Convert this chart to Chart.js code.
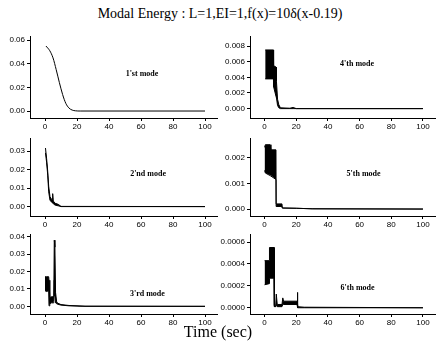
<!DOCTYPE html>
<html>
<head>
<meta charset="utf-8">
<script src="https://cdn.jsdelivr.net/npm/chart.js@4.4.0/dist/chart.umd.min.js"></script>
<style>
  body { margin: 0; background: #fff; }
  #wrap { position: relative; width: 436px; height: 347px; overflow: hidden; }
  canvas { position: absolute; }
  .title { position: absolute; left: 0; width: 440px; top: 6px; text-align: center;
           font: 14px "Liberation Serif", serif; color: #000; }
  .xlab { position: absolute; left: 0; width: 436px; top: 323px; text-align: center;
          font: 16px "Liberation Serif", serif; color: #000; }
</style>
</head>
<body>
<div id="wrap">
  <div class="title">Modal Energy : L=1,EI=1,f(x)=10δ(x-0.19)</div>
  <canvas id="c1" width="218" height="102" style="left:0;top:30px"></canvas>
  <canvas id="c4" width="218" height="102" style="left:218px;top:30px"></canvas>
  <canvas id="c2" width="218" height="98" style="left:0;top:132px"></canvas>
  <canvas id="c5" width="218" height="98" style="left:218px;top:132px"></canvas>
  <canvas id="c3" width="218" height="100" style="left:0;top:228px"></canvas>
  <canvas id="c6" width="218" height="100" style="left:218px;top:228px"></canvas>
  <div class="xlab">Time (sec)</div>
</div>
<script>
// time ticks shared by every panel
const timeTicks = [0, 20, 40, 60, 80, 100];

// 1'st mode: smooth decay
const mode1Time   = [0.6, 3, 5, 7, 9, 11, 13, 15, 17, 19, 22, 100];
const mode1Energy = [0.055, 0.051, 0.045, 0.035, 0.024, 0.014, 0.0065, 0.0025, 0.0008, 0.0002, 0, 0];
const mode1Ticks  = [0, 0.02, 0.04, 0.06];

// 2'nd mode: upper / lower envelope of the oscillation
const mode2Time  = [0.3, 1, 1.7, 2.3, 3.1, 4, 4.6, 4.8, 5.2, 6.3, 8.3, 10, 100];
const mode2Upper = [0.0317, 0.026, 0.019, 0.011, 0.0055, 0.004, 0.004, 0.007, 0.003, 0.0018, 0.0012, 0.0001, 0];
const mode2Lower = [0.029, 0.024, 0.017, 0.008, 0.0035, 0.0025, 0.002, 0.0025, 0.0015, 0.0008, 0.0004, 0, 0];
const mode2Ticks = [0, 0.01, 0.02, 0.03];

// 3'rd mode
const mode3Time  = [0, 1, 2.3, 2.5, 3, 4, 5, 5.5, 5.8, 6.2, 6.6, 7.3, 8, 10, 15, 25, 100];
const mode3Upper = [0.017, 0.017, 0.017, 0.015, 0.005, 0.0055, 0.0055, 0.006, 0.038, 0.034, 0.008, 0.0025, 0.0018, 0.001, 0.0005, 0.0001, 0];
const mode3Lower = [0.009, 0.0085, 0.009, 0.0003, 0.0015, 0.002, 0.002, 0.003, 0.015, 0.006, 0.002, 0.0015, 0.0012, 0.0007, 0.0003, 0, 0];
const mode3Ticks = [0, 0.01, 0.02, 0.03, 0.04];

// 4'th mode
const mode4Time  = [0.4, 5.6, 5.7, 7.3, 7.5, 8.2, 9, 10, 16, 18, 20, 100];
const mode4Upper = [0.0075, 0.0075, 0.0055, 0.0053, 0.0035, 0.0012, 0.0005, 0.0001, 0.00005, 0.00015, 0, 0];
const mode4Lower = [0.0038, 0.0038, 0.0028, 0.0015, 0.0014, 0.0004, 0.0001, 0, 0, 0, 0, 0];
const mode4Ticks = [0, 0.002, 0.004, 0.006, 0.008];

// 5'th mode
const mode5Time  = [0, 0.5, 3.5, 4, 7.2, 7.3, 11, 11.2, 20, 30, 100];
const mode5Upper = [0.0024, 0.0025, 0.0025, 0.0023, 0.0023, 0.0002, 0.0002, 0.00004, 0.00003, 0.00001, 0];
const mode5Lower = [0.0015, 0.0014, 0.0013, 0.0013, 0.00115, 0.0001, 0.0001, 0.00004, 0.00003, 0.00001, 0];
const mode5Ticks = [0, 0.001, 0.002];

// 6'th mode
const mode6Time  = [0, 3, 3.1, 6, 6.2, 7, 7.4, 8, 11, 11.5, 12, 20.5, 20.7, 21, 25, 100];
const mode6Upper = [0.00043, 0.00043, 0.00055, 0.00055, 0.00002, 0.00001, 0.000125, 0.00003, 0.00003, 0.00009, 0.00006, 0.00006, 0.00014, 0.00001, 0.000005, 0];
const mode6Lower = [0.00021, 0.00022, 0.00027, 0.00027, 0.00001, 0.00001, 0.00003, 0.00001, 0.00001, 0.00003, 0.00003, 0.00003, 0.00001, 0, 0, 0];
const mode6Ticks = [0, 0.0002, 0.0004, 0.0006];

const modeNames = ["1'st mode", "2'nd mode", "3'rd mode", "4'th mode", "5'th mode", "6'th mode"];

const pts = (t, v) => t.map((x, i) => ({ x: x, y: v[i] }));

// draws the mode name inside the plot, at a data position
const modeLabel = {
  id: 'modeLabel',
  afterDraw(chart, args, opts) {
    const ctx = chart.ctx;
    ctx.save();
    ctx.font = 'bold 8px "Liberation Serif", serif';
    ctx.fillStyle = '#000';
    ctx.textAlign = 'center';
    ctx.textBaseline = 'middle';
    ctx.fillText(opts.text, chart.scales.x.getPixelForValue(opts.at[0]), chart.scales.y.getPixelForValue(opts.at[1]));
    ctx.restore();
  }
};

function panel(id, p) {
  const datasets = [];
  if (p.lower) {
    datasets.push({ data: pts(p.time, p.upper), fill: '+1', backgroundColor: '#000' });
    datasets.push({ data: pts(p.time, p.lower), fill: false });
  } else {
    datasets.push({ data: pts(p.time, p.upper), fill: false, cubicInterpolationMode: 'monotone' });
  }
  datasets.forEach(d => { d.borderColor = '#000'; d.borderWidth = 1; d.pointRadius = 0; });

  const right = p.left ? 30 : 32;
  new Chart(document.getElementById(id), {
    type: 'line',
    data: { datasets: datasets },
    plugins: [modeLabel],
    options: {
      responsive: false,
      animation: false,
      layout: { padding: { top: p.padTop, right: 1, left: 0, bottom: 0 } },
      plugins: {
        legend: { display: false },
        tooltip: { enabled: false },
        modeLabel: { text: p.name, at: p.at }
      },
      scales: {
        x: {
          type: 'linear',
          min: p.xMin, max: p.xMax,
          afterBuildTicks: s => { s.ticks = timeTicks.map(v => ({ value: v })); },
          afterFit: s => { s.height = 14; },
          border: { color: '#000', width: 1 },
          grid: { drawOnChartArea: false, tickLength: 3, color: '#000' },
          ticks: { autoSkip: false, maxRotation: 0, padding: 1, color: '#000',
                   font: { family: 'Liberation Sans', size: 8 } }
        },
        y: {
          min: p.yMin, max: p.yMax,
          afterBuildTicks: s => { s.ticks = p.ticks.map(v => ({ value: v })); },
          afterFit: s => { s.width = right; },
          border: { color: '#000', width: 1 },
          grid: { drawOnChartArea: false, tickLength: 3, color: '#000' },
          ticks: { padding: 2, color: '#000', font: { family: 'Liberation Sans', size: 8 },
                   callback: v => v.toFixed(p.dec) }
        }
      }
    }
  });
}

const leftX = { left: true, xMin: -9.375, xMax: 107.5 };
const rightX = { left: false, xMin: -9.2, xMax: 107.6 };

panel('c1', { ...leftX, time: mode1Time, upper: mode1Energy, ticks: mode1Ticks, dec: 2,
  yMin: -0.0059, yMax: 0.0628, padTop: 6, name: modeNames[0], at: [60.6, 0.0318] });
panel('c2', { ...leftX, time: mode2Time, upper: mode2Upper, lower: mode2Lower, ticks: mode2Ticks, dec: 2,
  yMin: -0.0051, yMax: 0.0367, padTop: 5, name: modeNames[1], at: [64.4, 0.0175] });
panel('c3', { ...leftX, time: mode3Time, upper: mode3Upper, lower: mode3Lower, ticks: mode3Ticks, dec: 2,
  yMin: -0.0044, yMax: 0.0411, padTop: 4, name: modeNames[2], at: [64, 0.0071] });
panel('c4', { ...rightX, time: mode4Time, upper: mode4Upper, lower: mode4Lower, ticks: mode4Ticks, dec: 3,
  yMin: -0.0012, yMax: 0.00918, padTop: 6, name: modeNames[3], at: [58.4, 0.00576] });
panel('c5', { ...rightX, time: mode5Time, upper: mode5Upper, lower: mode5Lower, ticks: mode5Ticks, dec: 3,
  yMin: -0.00027, yMax: 0.00273, padTop: 5, name: modeNames[4], at: [62.5, 0.00137] });
panel('c6', { ...rightX, time: mode6Time, upper: mode6Upper, lower: mode6Lower, ticks: mode6Ticks, dec: 4,
  yMin: -0.000057, yMax: 0.000666, padTop: 4, name: modeNames[5], at: [58.7, 0.000184] });
</script>
</body>
</html>
